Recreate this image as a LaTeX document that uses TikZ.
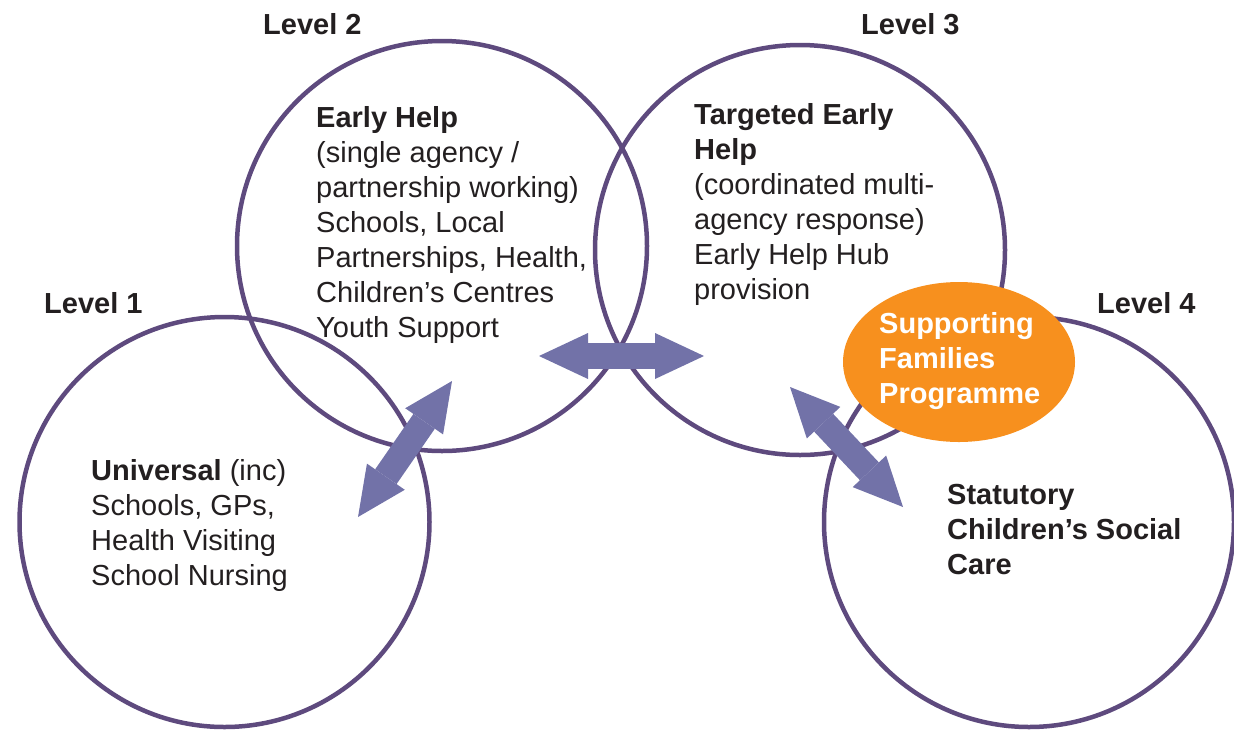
\documentclass[tikz,border=0pt]{standalone}
\usepackage{fontspec}
\setmainfont{Liberation Sans}
\usetikzlibrary{arrows.meta,shapes.geometric}
\definecolor{ringcol}{HTML}{5E4A7E}
\definecolor{arrowcol}{HTML}{7272A8}
\definecolor{sfpcol}{HTML}{F7901E}
\definecolor{inkcol}{HTML}{231F20}
\tikzset{
  ring/.style={draw=ringcol, line width=4.5pt, circle, minimum size=410pt, inner sep=0pt},
  txt/.style={anchor=north west, inner sep=0pt, align=left, text=inkcol, font=\fontsize{29}{35}\selectfont},
  levellabel/.style={anchor=base west, inner sep=0pt, text=inkcol, font=\fontsize{29}{35}\selectfont\bfseries},
  sfpshape/.style={ellipse, fill=sfpcol, minimum width=232pt, minimum height=160pt, inner sep=0pt},
  sfptext/.style={anchor=north west, inner sep=0pt, align=left, text=white, font=\fontsize{29}{35}\selectfont\bfseries},
  dblarrow/.style={draw=arrowcol, line width=26pt,
    {Triangle[length=49pt,width=46pt,line width=0pt]}-{Triangle[length=49pt,width=46pt,line width=0pt]}}
}
\begin{document}
\begin{tikzpicture}[x=1pt,y=-1pt]
\useasboundingbox (0,0) rectangle (1234,729);
% circles
\node[ring] (c1) at (224.5,522) {};
\node[ring] (c2) at (442,246) {};
\node[ring] (c3) at (800,250) {};
\node[ring] (c4) at (1029,522) {};
% orange ellipse
\node[sfpshape] (sfp) at (959,362) {};
% arrow end points
\coordinate (la) at (452,381);
\coordinate (lb) at (358,517);
\coordinate (ma) at (539,356);
\coordinate (mb) at (704,356);
\coordinate (ra) at (790,387);
\coordinate (rb) at (903,507);
\draw[dblarrow] (la) -- (lb);
\draw[dblarrow] (ma) -- (mb);
\draw[dblarrow] (ra) -- (rb);
% level labels
\node[levellabel] (l1) at (44,313) {Level 1};
\node[levellabel] (l2) at (263,34) {Level 2};
\node[levellabel] (l3) at (861,34) {Level 3};
\node[levellabel] (l4) at (1097,313) {Level 4};
% texts
\node[txt] (t2) at (316,106.5) {\textbf{Early Help}\\(single agency /\\partnership working)\\Schools, Local\\Partnerships, Health,\\Children’s Centres\\Youth Support};
\node[txt] (t3) at (694,103.5) {\textbf{Targeted Early}\\\textbf{Help}\\(coordinated multi-\\agency response)\\Early Help Hub\\provision};
\node[txt] (t1) at (91,459) {\textbf{Universal} (inc)\\Schools, GPs,\\Health Visiting\\School Nursing};
\node[txt] (t4) at (947,484.5) {\textbf{Statutory}\\\textbf{Children’s Social}\\\textbf{Care}};
\node[sfptext] (ts) at (879,312.5) {Supporting\\Families\\Programme};
\end{tikzpicture}
\end{document}
